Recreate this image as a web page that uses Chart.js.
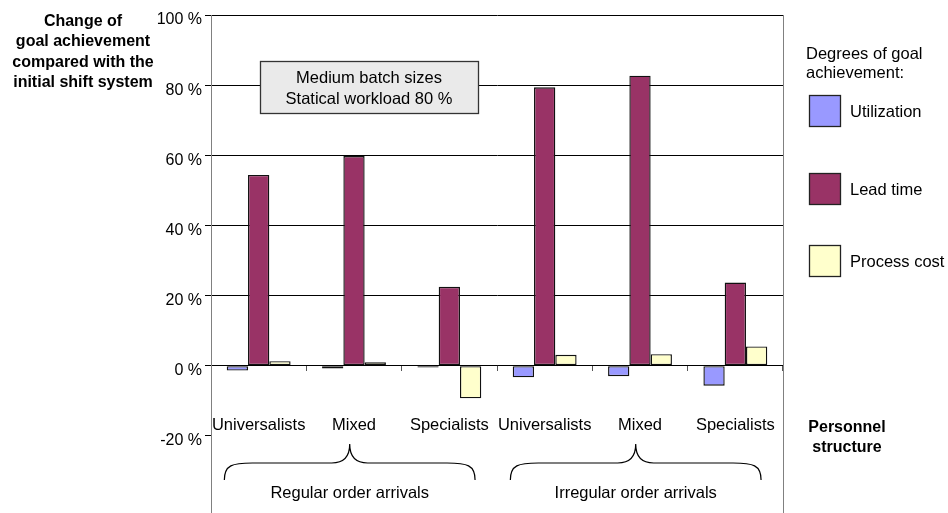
<!DOCTYPE html>
<html>
<head>
<meta charset="utf-8">
<script src="https://cdn.jsdelivr.net/npm/chart.js@4/dist/chart.umd.min.js"></script>
<style>
  html, body { margin: 0; padding: 0; background: #fff; }
</style>
</head>
<body>
<canvas id="chart" width="948" height="513"></canvas>
<script>
// data (percent change vs. initial shift system)
const categories = ['Universalists', 'Mixed', 'Specialists', 'Universalists', 'Mixed', 'Specialists'];
const utilization = [-1.4, -0.8, -0.5, -3.3, -3.0, -5.7];
const leadTime = [54.4, 59.8, 22.5, 79.4, 82.7, 23.7];
const processCost = [1.3, 1.0, -9.3, 3.1, 3.3, 5.5];
const yTicks = [-20, 0, 20, 40, 60, 80, 100];
const seriesNames = ['Utilization', 'Lead time', 'Process cost'];
const seriesColors = ['#9999FF', '#993366', '#FFFFCC'];
const arrivalGroups = [['Regular order arrivals', 0, 2], ['Irregular order arrivals', 3, 5]];
const noteLines = ['Medium batch sizes', 'Statical workload 80 %'];
const yTitleLines = ['Change of', 'goal achievement', 'compared with the', 'initial shift system'];
const legendTitleLines = ['Degrees of goal', 'achievement:'];
const xTitleLines = ['Personnel', 'structure'];

const FONT = '"Liberation Sans", Arial, sans-serif';

function brace(ctx, left, right, yLine, yEnd, yTip) {
  const mid = (left + right) / 2;
  ctx.beginPath();
  ctx.moveTo(left, yEnd);
  ctx.bezierCurveTo(left, yLine + 2, left + 8, yLine, left + 28, yLine);
  ctx.lineTo(mid - 18, yLine);
  ctx.bezierCurveTo(mid - 6, yLine, mid, yLine - 6, mid, yTip);
  ctx.bezierCurveTo(mid, yLine - 6, mid + 6, yLine, mid + 18, yLine);
  ctx.lineTo(right - 28, yLine);
  ctx.bezierCurveTo(right - 8, yLine, right, yLine + 2, right, yEnd);
  ctx.stroke();
}

const decor = {
  id: 'decor',
  afterDraw(chart) {
    const { ctx, chartArea: a, scales: { x, y } } = chart;
    ctx.save();

    // right frame line
    ctx.strokeStyle = '#808080';
    ctx.lineWidth = 1;
    ctx.beginPath();
    ctx.moveTo(a.right + 0.5, a.top);
    ctx.lineTo(a.right + 0.5, a.bottom);
    ctx.stroke();

    // note box
    const bx = a.left + 49, by = 61, bw = 218, bh = 52;
    ctx.fillStyle = '#EAEAEA';
    ctx.fillRect(bx, by, bw, bh);
    ctx.strokeStyle = '#333';
    ctx.lineWidth = 1.3;
    ctx.strokeRect(bx + 0.5, by + 0.5, bw, bh);
    ctx.fillStyle = '#000';
    ctx.font = '16.5px ' + FONT;
    ctx.textAlign = 'center';
    ctx.textBaseline = 'alphabetic';
    ctx.fillText(noteLines[0], bx + bw / 2, by + 22);
    ctx.fillText(noteLines[1], bx + bw / 2, by + 43);

    // category labels
    const y0 = y.getPixelForValue(0);
    ctx.font = '16.5px ' + FONT;
    categories.forEach((c, i) => {
      ctx.fillText(c, x.getPixelForValue(i), y0 + 64);
    });

    // braces + group labels
    const step = x.getPixelForValue(1) - x.getPixelForValue(0);
    ctx.strokeStyle = '#000';
    ctx.lineWidth = 1.2;
    arrivalGroups.forEach(([label, from, to]) => {
      const left = x.getPixelForValue(from) - step * 0.36;
      const right = x.getPixelForValue(to) + step * 0.27;
      brace(ctx, left, right, 463, 480, 444);
      ctx.fillText(label, (left + right) / 2, 498);
    });

    // y title
    ctx.font = 'bold 16px ' + FONT;
    yTitleLines.forEach((t, i) => ctx.fillText(t, 83, 26 + i * 20.4));

    // x title
    xTitleLines.forEach((t, i) => ctx.fillText(t, 847, 432 + i * 20));

    // legend
    ctx.textAlign = 'left';
    ctx.font = '16.5px ' + FONT;
    legendTitleLines.forEach((t, i) => ctx.fillText(t, 806, 58.5 + i * 19.5));
    const tops = [95, 173, 245];
    seriesNames.forEach((name, i) => {
      ctx.fillStyle = seriesColors[i];
      ctx.fillRect(809, tops[i], 32, 32);
      ctx.strokeStyle = '#222';
      ctx.lineWidth = 1.3;
      ctx.strokeRect(809.5, tops[i] + 0.5, 31, 31);
      ctx.fillStyle = '#000';
      ctx.fillText(name, 850, tops[i] + 22);
    });

    ctx.restore();
  }
};

new Chart(document.getElementById('chart'), {
  type: 'bar',
  data: {
    labels: categories,
    datasets: [utilization, leadTime, processCost].map((d, i) => ({
      label: seriesNames[i],
      data: d,
      backgroundColor: seriesColors[i],
      borderColor: '#111',
      borderWidth: 1.4,
      borderSkipped: false
    }))
  },
  options: {
    responsive: false,
    animation: false,
    layout: { padding: { left: 0, right: 165, top: 15, bottom: 0 } },
    datasets: { bar: { categoryPercentage: 0.67, barPercentage: 1.0 } },
    plugins: { legend: { display: false }, tooltip: { enabled: false } },
    scales: {
      x: {
        position: { y: 0 },
        grid: { offset: true, drawOnChartArea: false, drawTicks: true, tickLength: 5, tickColor: '#555' },
        border: { color: '#000', width: 1 },
        ticks: { display: false }
      },
      y: {
        min: -42,
        max: 100,
        afterBuildTicks: s => { s.ticks = yTicks.map(v => ({ value: v })); },
        afterFit: s => { s.width = 211; s.paddingTop = 0; s.paddingBottom = 0; },
        ticks: {
          callback: v => v + ' %',
          color: '#000',
          font: { family: FONT, size: 16 },
          padding: 3,
          labelOffset: 5
        },
        grid: {
          color: c => (c.tick && c.tick.value >= 0 ? '#000' : 'rgba(0,0,0,0)'),
          tickColor: '#000',
          tickLength: 6,
          lineWidth: 1
        },
        border: { color: '#808080', width: 1 }
      }
    }
  },
  plugins: [decor]
});
</script>
</body>
</html>
